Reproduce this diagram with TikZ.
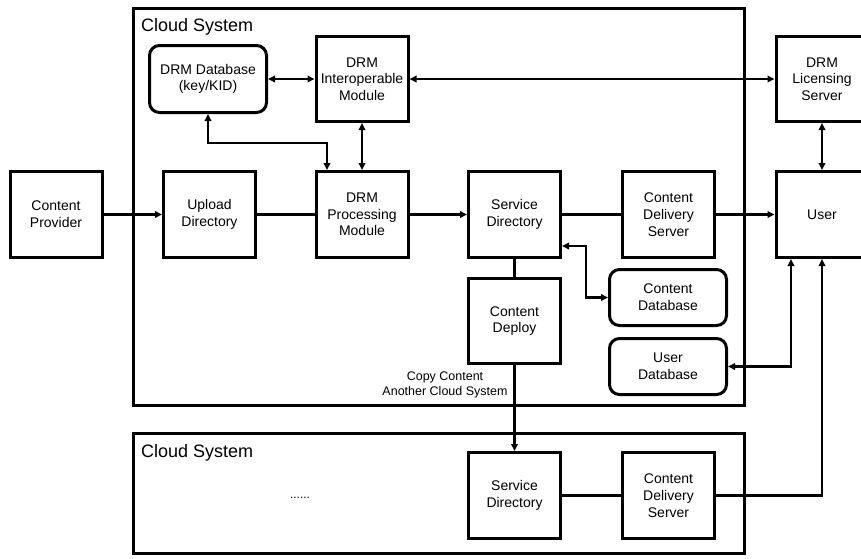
\documentclass[tikz,border=0pt]{standalone}
\usepackage{fontspec}
\setmainfont{Liberation Sans}
\usetikzlibrary{arrows.meta,calc}

\begin{document}
\begin{tikzpicture}[x=1pt, y=-1pt,
    every node/.style={font=\fontsize{14}{16.7}\selectfont, align=center, inner sep=2pt},
    blk/.style={draw, line width=3pt, minimum width=92pt, minimum height=86pt},
    dbbox/.style={draw, line width=3pt, rounded corners=10pt, minimum width=117pt, minimum height=56pt},
    cloudbox/.style={draw, line width=3pt},
    conn/.style={line width=2.2pt},
    arr/.style={conn, -{Triangle[length=7pt,width=6.5pt]}},
    dbl/.style={conn, {Triangle[length=7pt,width=6.5pt]}-{Triangle[length=7pt,width=6.5pt]}}]
      \useasboundingbox (0,0) rectangle (861,558);
      % Cloud system frames
      \draw[cloudbox] (133,8) rectangle (744,405);
      \draw[cloudbox] (133,433) rectangle (744,553);
      \node[anchor=base west, font=\fontsize{18}{20}\selectfont] (cloudA) at (139,31) {Cloud System};
      \node[anchor=base west, font=\fontsize{18}{20}\selectfont] (cloudB) at (139,457) {Cloud System};
      % Top row
      \node[dbbox, minimum height=67pt] (drmdb) at (208,79) {DRM Database\\(key/KID)};
      \node[blk, minimum height=85pt] (interop) at (362,79) {DRM\\Interoperable\\Module};
      \node[blk, minimum height=85pt] (lic) at (822,79) {DRM\\Licensing\\Server};
      % Middle row
      \node[blk] (prov) at (56,214.5) {Content\\Provider};
      \node[blk] (upload) at (209.5,214.5) {Upload\\Directory};
      \node[blk] (proc) at (362,214.5) {DRM\\Processing\\Module};
      \node[blk] (sdir) at (514.5,214.5) {Service\\Directory};
      \node[blk] (cds) at (668.5,214.5) {Content\\Delivery\\Server};
      \node[blk] (user) at (822,214.5) {User};
      % Below the service directory
      \node[blk, minimum height=85pt] (deploy) at (514.5,321) {Content\\Deploy};
      \node[dbbox] (cdb) at (668,297.5) {Content\\Database};
      \node[dbbox] (udb) at (668,366.5) {User\\Database};
      % Second cloud system
      \node[blk] (sdirB) at (514.5,495.5) {Service\\Directory};
      \node[blk] (cdsB) at (668.5,495.5) {Content\\Delivery\\Server};
      \node[font=\fontsize{12}{14}\selectfont] (dots) at (300,498) {......};
      \node[font=\fontsize{12.5}{15}\selectfont] (copylbl) at (445,384.5) {Copy Content\\Another Cloud System};
      % Connectors
      \draw[arr] (prov) -- (upload);
      \draw[conn] (upload) -- (proc);
      \draw[arr] (proc) -- (sdir);
      \draw[conn] (sdir) -- (cds);
      \draw[arr] (cds) -- (user);
      \draw[dbl] (drmdb) -- (interop);
      \draw[dbl] (interop) -- (lic);
      \draw[dbl] (interop) -- (proc);
      \draw[dbl] (lic) -- (user);
      \draw[dbl] (drmdb.south) -- ++(0,29) -| ([xshift=-35pt]proc.north);
      \draw[conn] (sdir) -- (deploy);
      \draw[dbl] ([yshift=-31.5pt]sdir.east) -- ++(24,0) |- (cdb.west);
      \draw[dbl] (udb.east) -| ([xshift=-31pt]user.south);
      \draw[arr] (deploy) -- (sdirB);
      \draw[conn] (sdirB) -- (cdsB);
      \draw[arr] (cdsB.east) -| (user.south);
\end{tikzpicture}
\end{document}
